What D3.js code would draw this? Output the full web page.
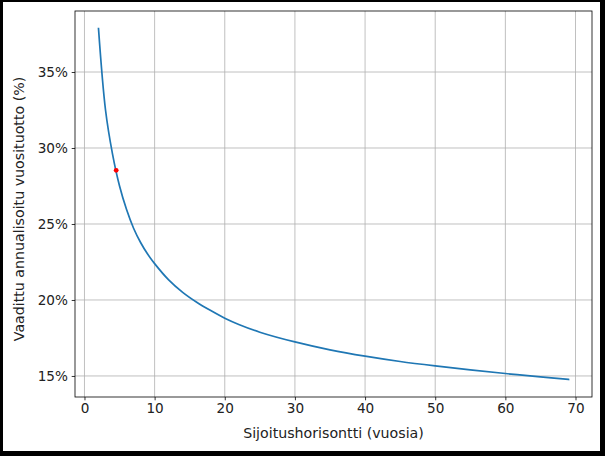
<!DOCTYPE html>
<html><head><meta charset="utf-8">
<script src="https://cdn.jsdelivr.net/npm/d3@7"></script>
<style>html,body{margin:0;padding:0;background:#000;}svg{display:block;}</style>
</head><body>
<script>
// Data
const years = [2, 3, 4, 5, 6, 7, 8, 9, 10, 12, 14, 16, 18, 20, 22, 25, 30, 35, 40, 45, 50, 55, 60, 65, 69];
const requiredReturn = [37.86, 32.5, 29.6, 27.5, 25.95, 24.72, 23.78, 23.02, 22.39, 21.32, 20.50, 19.85, 19.30, 18.80, 18.39, 17.88, 17.24, 16.72, 16.30, 15.95, 15.66, 15.40, 15.16, 14.94, 14.77];
const markerPoint = {year: 4.52, value: 28.53};
const xTicks = [0, 10, 20, 30, 40, 50, 60, 70];
const yTicks = [15, 20, 25, 30, 35];
const xLabel = "Sijoitushorisontti (vuosia)";
const yLabel = "Vaadittu annualisoitu vuosituotto (%)";

const W = 605, H = 456;
const plot = {left: 75, top: 11, right: 592, bottom: 397};
const font = "'DejaVu Sans', sans-serif";

const svg = d3.select("body").append("svg").attr("width", W).attr("height", H);
svg.append("rect").attr("x", 0).attr("y", 0).attr("width", W).attr("height", H).attr("fill", "#000");
svg.append("rect").attr("x", 3).attr("y", 2).attr("width", 597).attr("height", 449).attr("fill", "#fff");

const xr = d3.extent(years), yr = d3.extent(requiredReturn);
const xm = (xr[1] - xr[0]) * 0.05, ym = (yr[1] - yr[0]) * 0.05;
const x = d3.scaleLinear().domain([xr[0] - xm, xr[1] + xm]).range([plot.left, plot.right]);
const y = d3.scaleLinear().domain([yr[0] - ym, yr[1] + ym]).range([plot.bottom, plot.top]);

// grid
const grid = svg.append("g");
grid.selectAll(".gx").data(xTicks).join("line")
  .attr("x1", d => x(d)).attr("x2", d => x(d))
  .attr("y1", plot.top).attr("y2", plot.bottom)
  .attr("stroke", "#b0b0b0").attr("stroke-width", 0.8);
grid.selectAll(".gy").data(yTicks).join("line")
  .attr("y1", d => y(d)).attr("y2", d => y(d))
  .attr("x1", plot.left).attr("x2", plot.right)
  .attr("stroke", "#b0b0b0").attr("stroke-width", 0.8);

// line
const line = d3.line().x((d, i) => x(years[i])).y(d => y(d)).curve(d3.curveCatmullRom.alpha(0.5));
svg.append("path").datum(requiredReturn).attr("d", line)
  .attr("fill", "none").attr("stroke", "#1f77b4").attr("stroke-width", 1.7)
  .attr("stroke-linecap", "square");

svg.append("circle").attr("cx", x(markerPoint.year)).attr("cy", y(markerPoint.value))
  .attr("r", 2.4).attr("fill", "red");

// axes
const xAxis = d3.axisBottom(x).tickValues(xTicks).tickSize(3.3).tickPadding(3.5).tickFormat(d3.format("d"));
const gx = svg.append("g").attr("transform", `translate(0,${plot.bottom})`).call(xAxis);
const yAxis = d3.axisLeft(y).tickValues(yTicks).tickSize(3.3).tickPadding(3.8).tickFormat(d => d + "%");
const gy = svg.append("g").attr("transform", `translate(${plot.left},0)`).call(yAxis);
[gx, gy].forEach(g => {
  g.select(".domain").remove();
  g.selectAll(".tick line").attr("stroke", "#000").attr("stroke-width", 0.8);
  g.selectAll(".tick text").attr("font-family", font).attr("font-size", 13.6).attr("fill", "#222");
});

// spines
svg.append("rect").attr("x", plot.left).attr("y", plot.top)
  .attr("width", plot.right - plot.left).attr("height", plot.bottom - plot.top)
  .attr("fill", "none").attr("stroke", "#000").attr("stroke-width", 0.8);

svg.append("text").attr("x", (plot.left + plot.right) / 2).attr("y", 438)
  .attr("text-anchor", "middle").attr("font-family", font).attr("font-size", 14.2).attr("fill", "#222").text(xLabel);
svg.append("text").attr("transform", `translate(24,${(plot.top + plot.bottom) / 2 + 5}) rotate(-90)`)
  .attr("text-anchor", "middle").attr("font-family", font).attr("font-size", 14.2).attr("fill", "#222").text(yLabel);
</script>
</body></html>
